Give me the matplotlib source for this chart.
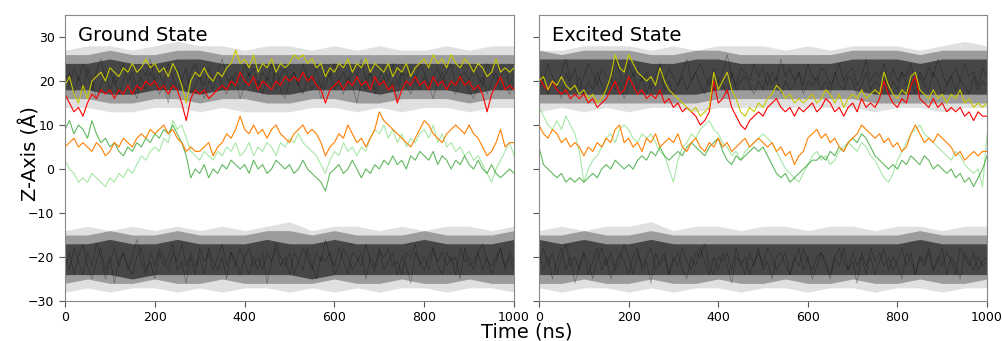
import numpy as np
import matplotlib
matplotlib.use('Agg')
import matplotlib.pyplot as plt

# ---- data (values every 10 ns) ----
g_yellow = [19,21,17,15,19,16,20,21,22,20, 23,22,21,23,22,24,22,23,25,23,
            24,22,23,21,24,22,19,15,20,22, 21,23,21,20,22,21,23,24,27,24,
            25,23,26,22,24,23,25,22,24,23, 24,26,25,26,24,25,23,24,21,23,
            22,24,23,25,22,24,23,25,22,24, 23,22,24,21,23,22,24,21,23,24,
            25,23,26,24,25,23,26,24,23,25, 24,22,24,23,21,22,25,22,23,22,23]
g_red = [17,15,13,14,12,15,17,16,18,17, 18,16,18,17,19,17,19,18,20,19,
         20,18,19,17,19,18,15,11,16,18, 17,18,16,17,18,19,18,20,19,22,
         20,19,21,18,20,19,18,20,19,21, 20,21,20,22,20,21,19,18,15,18,
         19,20,18,20,19,21,19,20,18,21, 19,20,18,19,15,18,20,19,21,19,
         20,18,21,19,20,18,20,19,21,19, 20,18,19,17,13,17,19,21,18,19,18]
g_orange = [5,6,7,5,6,5,4,6,5,3, 4,6,5,7,6,5,7,8,7,9,
            8,9,10,8,9,7,6,4,5,4, 4,5,6,3,5,6,8,7,9,12,
            9,8,10,8,9,7,9,10,8,7, 6,8,9,10,8,9,8,6,3,5,
            6,8,7,10,8,6,7,5,7,9, 13,11,10,9,8,7,6,5,7,9,
            11,10,8,7,6,8,9,10,9,8, 10,8,7,5,3,4,6,9,5,6,6]
g_green_a = [9,11,8,10,9,7,11,8,6,7, 5,6,4,3,5,4,6,5,7,6,
             8,7,9,8,10,8,6,3,-2,0, -1,1,-2,0,-1,1,0,2,1,0,
             1,-1,2,0,1,-1,0,2,1,0, 1,-1,0,2,0,-1,-2,-3,-5,-1,
             0,1,-1,0,2,0,-2,0,-1,1, 0,2,1,3,1,2,0,3,2,4,
             3,2,4,1,3,2,0,2,1,3, 1,0,2,0,-1,1,-1,-2,-1,0,-1]
g_green_b = [2,0,-1,-3,-2,-3,-1,-2,-3,-4, -2,-3,-1,-2,0,-1,1,3,2,4,
             5,4,7,6,11,9,10,7,4,3, 2,4,3,2,4,3,5,4,6,3,
             4,6,3,5,4,6,5,3,6,5, 7,6,8,6,5,4,3,1,-1,2,
             4,3,6,4,5,3,5,4,7,9, 8,10,7,9,6,8,5,7,6,8,
             9,7,10,6,8,5,6,4,5,3, 4,2,3,1,-1,-3,0,2,4,6,3]

e_yellow = [20,21,18,20,19,21,19,18,19,17, 18,16,17,15,16,18,21,26,23,22,
            26,24,22,21,20,21,19,23,20,18, 17,16,15,14,13,14,12,13,14,22,
            18,20,22,18,16,13,12,14,13,15, 14,16,17,19,18,16,17,15,16,15,
            16,17,15,16,18,17,15,17,14,16, 17,16,18,16,17,18,17,22,19,17,
            16,18,17,21,22,18,17,16,18,16, 17,15,17,16,18,15,16,14,15,14,15]
e_red = [21,19,18,20,18,17,18,16,17,16, 17,15,16,14,15,16,18,20,17,18,
         21,19,17,18,16,17,16,18,15,16, 14,15,13,14,13,12,10,11,13,20,
         15,16,18,14,12,10,9,11,12,13, 12,14,15,16,14,13,14,12,14,13,
         14,15,13,14,16,15,13,14,12,14, 15,13,16,14,15,14,16,20,17,15,
         14,16,15,19,21,16,15,14,16,14, 15,13,14,13,14,12,13,11,13,12,12]
e_orange = [10,8,7,9,8,6,7,5,6,5, 3,5,4,6,5,7,6,9,10,6,
            7,5,6,4,7,6,8,5,6,7, 6,8,5,4,6,7,5,4,6,5,
            7,5,6,4,5,6,7,5,6,7, 6,5,6,4,5,3,4,1,3,4,
            7,8,9,7,8,6,7,5,4,6, 7,8,10,9,8,7,8,6,7,5,
            6,4,5,8,10,8,6,7,6,8, 7,6,5,3,4,2,3,4,3,4,4]
e_green_a = [5,1,0,-1,-2,-1,-3,-2,-3,-2, -3,-2,-1,-2,0,1,0,2,1,0,
             1,0,2,3,2,4,3,5,3,2, 3,4,3,5,6,5,4,3,5,6,
             7,4,2,1,3,2,3,4,5,4, 5,3,1,-1,-2,-1,-3,-2,-1,0,
             1,2,2,3,2,4,3,5,4,6, 7,6,8,7,5,3,2,1,0,1,
             0,2,1,3,2,1,3,2,0,1, 0,-1,0,-2,-1,-3,-2,-4,-2,0,3]
e_green_b = [14,12,10,9,11,9,12,10,8,4, -3,0,2,3,5,7,8,6,9,10,
             9,7,6,8,7,8,6,4,3,0, -3,2,5,6,8,7,9,10,11,9,
             8,6,5,3,4,2,4,5,6,7, 8,7,6,4,2,0,-1,-2,-3,-1,
             1,3,4,2,3,1,2,4,5,6, 5,4,6,5,3,2,0,-2,-3,-1,
             2,4,6,8,9,10,8,7,6,5, 4,3,2,4,3,1,0,-1,0,-4,8]

# ---- black band envelopes (every 50 ns): outer, middle, core ----
gu_out_hi = [27,28,28,27,28,29,28,28,27,28,28,27,28,27,28,27,27,28,27,28,28]
gu_mid_hi = [26,26,27,26,26,27,27,26,26,26,26,26,26,26,26,26,26,26,26,26,26]
gu_core_hi = [24,24,25,24,24,25,25,24,24,24,24,24,24,24,24,24,24,24,24,24,24]
gu_core_lo = [18,18,17,17,18,18,17,18,18,17,17,18,18,18,17,18,18,18,17,18,18]
gu_mid_lo = [16,16,15,15,16,16,15,16,16,15,15,16,16,15,15,16,16,16,15,16,16]
gu_out_lo = [14,14,13,13,14,14,13,14,13,13,13,14,14,13,14,13,14,14,13,14,14]
gl_out_hi = [-14,-13,-14,-13,-14,-13,-14,-13,-14,-13,-12,-14,-13,-13,-14,-13,-14,-13,-13,-14,-13]
gl_mid_hi = [-15,-15,-14,-15,-15,-14,-15,-15,-15,-14,-14,-15,-14,-15,-15,-15,-14,-15,-15,-15,-14]
gl_core_hi = [-17,-17,-16,-17,-17,-16,-17,-17,-17,-16,-17,-17,-16,-17,-17,-17,-16,-17,-17,-17,-16]
gl_core_lo = [-24,-24,-24,-25,-24,-24,-24,-24,-24,-24,-24,-25,-24,-24,-24,-24,-24,-24,-24,-24,-24]
gl_mid_lo = [-26,-25,-26,-26,-25,-26,-26,-25,-26,-26,-26,-26,-25,-26,-26,-25,-26,-26,-25,-26,-26]
gl_out_lo = [-28,-27,-28,-27,-27,-28,-27,-28,-27,-27,-28,-27,-28,-27,-28,-27,-27,-28,-27,-27,-28]
eu_out_hi = [27,27,28,28,28,27,28,27,28,28,28,27,28,27,28,28,28,27,28,29,28]
eu_mid_hi = [27,26,27,27,27,26,26,27,27,26,26,26,26,26,27,27,27,26,27,27,27]
eu_core_hi = [25,25,25,25,25,24,24,25,25,24,24,24,24,24,25,25,25,24,25,25,25]
eu_core_lo = [17,17,17,17,17,17,17,17,18,18,18,18,18,18,18,17,17,17,17,17,17]
eu_mid_lo = [15,15,15,15,15,15,15,15,16,16,16,16,16,16,16,15,15,15,15,15,15]
eu_out_lo = [13,14,13,14,13,14,14,13,14,14,14,14,14,14,14,13,14,14,13,14,14]
el_out_hi = [-14,-13,-14,-13,-13,-12,-14,-13,-13,-14,-13,-13,-14,-13,-13,-14,-13,-13,-14,-13,-13]
el_mid_hi = [-15,-15,-14,-15,-15,-14,-15,-15,-15,-15,-15,-15,-15,-15,-15,-15,-15,-14,-15,-15,-15]
el_core_hi = [-16,-17,-16,-17,-17,-16,-17,-17,-17,-17,-17,-17,-17,-17,-17,-17,-17,-16,-17,-17,-17]
el_core_lo = [-24,-24,-24,-24,-24,-24,-24,-24,-24,-24,-24,-24,-24,-24,-24,-24,-24,-24,-24,-24,-24]
el_mid_lo = [-26,-26,-25,-26,-26,-25,-26,-26,-25,-26,-26,-25,-26,-26,-25,-26,-26,-25,-26,-26,-25]
el_out_lo = [-27,-28,-27,-27,-28,-27,-28,-27,-27,-28,-27,-27,-28,-27,-27,-28,-27,-27,-28,-27,-27]

# ---- a few individual black traces (every 10 ns) ----
gu_tr1 = [22,19,23,20,24,21,18,22,25,20,23,19,21,24,20,22,18,23,21,25,20,22,19,24,21,23,20,18,22,24,21,19,23,20,22,25,21,19,22,20,24,21,23,19,22,20,24,18,21,23,20,22,19,24,21,20,23,18,22,21,24,20,22,19,23,21,25,20,22,18,21,23,20,24,19,22,21,23,20,24,22,19,21,23,20,22,24,19,21,22,20,23,21,19,24,22,20,21,23,19,22]
gu_tr2 = [19,22,17,21,18,23,20,16,19,22,18,21,17,20,23,19,16,21,18,22,20,17,19,15,21,18,20,23,17,19,21,16,20,18,22,19,17,21,20,16,19,22,18,20,17,21,19,23,18,16,20,22,19,17,21,18,20,16,19,22,18,20,17,21,19,15,20,18,22,17,19,21,18,20,16,22,19,17,20,18,21,19,16,20,22,18,19,17,21,20,18,16,19,21,17,20,22,18,19,17,20]
gl_tr1 = [-20,-23,-18,-21,-24,-19,-22,-17,-20,-25,-21,-18,-22,-19,-23,-20,-16,-21,-24,-19,-22,-18,-20,-23,-19,-21,-17,-22,-20,-24,-18,-21,-19,-23,-20,-17,-22,-19,-21,-24,-20,-18,-22,-20,-23,-19,-21,-17,-20,-22,-19,-24,-21,-18,-20,-23,-19,-21,-16,-20,-22,-18,-21,-24,-19,-20,-22,-17,-21,-23,-19,-20,-18,-22,-21,-24,-19,-20,-17,-22,-20,-23,-18,-21,-19,-22,-20,-24,-18,-21,-20,-23,-19,-17,-21,-22,-20,-18,-23,-19,-21]
gl_tr2 = [-22,-19,-24,-20,-17,-22,-25,-21,-18,-23,-20,-26,-21,-19,-22,-24,-20,-18,-23,-21,-25,-19,-22,-20,-17,-23,-21,-26,-19,-22,-20,-24,-18,-21,-23,-20,-25,-19,-22,-18,-21,-24,-20,-23,-19,-26,-21,-18,-22,-20,-24,-19,-21,-23,-18,-22,-25,-20,-21,-19,-24,-22,-18,-20,-23,-21,-19,-25,-20,-22,-18,-23,-21,-19,-24,-20,-22,-26,-19,-21,-23,-20,-18,-22,-24,-19,-21,-20,-25,-18,-22,-21,-19,-23,-20,-24,-21,-18,-22,-20,-23]
eu_tr1 = [23,20,24,21,19,22,25,20,23,18,21,24,22,19,23,21,20,25,22,19,24,21,23,20,22,18,21,24,20,23,21,19,22,25,20,22,24,21,19,23,20,22,26,21,19,23,22,20,24,21,23,19,22,20,25,21,23,20,22,19,24,21,20,23,22,19,21,24,20,22,23,19,21,25,20,22,21,24,19,23,20,22,21,24,19,22,20,23,21,25,22,19,21,23,20,24,21,22,19,23,21]
eu_tr2 = [18,21,17,20,19,16,22,19,18,21,17,20,18,22,19,17,21,18,20,16,19,22,18,21,17,20,19,23,18,20,17,19,21,18,20,22,19,17,21,18,20,19,17,22,18,20,21,19,17,20,18,22,19,21,17,20,18,19,22,17,20,19,21,18,20,17,22,19,18,21,20,17,19,22,18,20,19,21,17,20,18,22,19,20,17,21,19,18,22,20,17,19,21,18,20,19,17,21,18,20,19]
el_tr1 = [-21,-18,-22,-19,-24,-20,-17,-22,-20,-23,-19,-21,-25,-20,-18,-22,-19,-23,-21,-17,-20,-24,-19,-22,-20,-18,-23,-21,-19,-24,-20,-22,-18,-21,-23,-19,-20,-17,-22,-24,-20,-21,-19,-23,-18,-22,-20,-24,-21,-19,-22,-18,-20,-23,-21,-19,-24,-20,-22,-18,-21,-23,-20,-19,-22,-25,-20,-18,-21,-23,-19,-22,-20,-24,-18,-21,-19,-22,-20,-23,-21,-18,-22,-19,-24,-20,-21,-18,-23,-20,-22,-19,-21,-24,-18,-20,-22,-19,-23,-21,-20]
el_tr2 = [-19,-23,-20,-25,-21,-18,-23,-20,-26,-22,-19,-24,-21,-18,-23,-20,-25,-22,-19,-21,-24,-20,-18,-23,-21,-26,-19,-22,-20,-24,-21,-19,-23,-25,-20,-22,-18,-21,-24,-20,-23,-19,-22,-26,-20,-21,-24,-19,-22,-18,-23,-21,-25,-20,-19,-22,-24,-21,-18,-23,-20,-25,-22,-19,-21,-24,-20,-22,-18,-23,-21,-26,-19,-22,-20,-24,-21,-18,-23,-20,-22,-25,-19,-21,-24,-20,-22,-19,-23,-21,-18,-24,-20,-22,-25,-19,-21,-23,-20,-22,-21]

panels = [
    ('Ground State',
     [([gu_out_lo, gu_mid_lo, gu_core_lo], [gu_out_hi, gu_mid_hi, gu_core_hi], [gu_tr1, gu_tr2]),
      ([gl_out_lo, gl_mid_lo, gl_core_lo], [gl_out_hi, gl_mid_hi, gl_core_hi], [gl_tr1, gl_tr2])],
     [g_green_b, g_green_a, g_orange, g_red, g_yellow]),
    ('Excited State',
     [([eu_out_lo, eu_mid_lo, eu_core_lo], [eu_out_hi, eu_mid_hi, eu_core_hi], [eu_tr1, eu_tr2]),
      ([el_out_lo, el_mid_lo, el_core_lo], [el_out_hi, el_mid_hi, el_core_hi], [el_tr1, el_tr2])],
     [e_green_b, e_green_a, e_orange, e_red, e_yellow]),
]
band_alpha = [0.12, 0.3, 0.55]
line_styles = [('#5fd35f', 0.55), ('#2ca02c', 0.75), ('#ff7f00', 1.0),
               ('#ff0000', 1.0), ('#c8c800', 1.0)]

fig = plt.figure(figsize=(10.03, 3.41), dpi=100)
rects = [[0.0648, 0.1173, 0.4477, 0.8387], [0.5374, 0.1173, 0.4467, 0.8387]]

for i, (title, bands, lines) in enumerate(panels):
    ax = fig.add_axes(rects[i])
    for los, his, traces in bands:
        for lo, hi, a in zip(los, his, band_alpha):
            xb = np.linspace(0, 1000, len(lo))
            ax.fill_between(xb, lo, hi, color='black', alpha=a, lw=0)
        for tr in traces:
            ax.plot(np.linspace(0, 1000, len(tr)), tr, color='black', lw=0.4, alpha=0.4)
    for y, (c, a) in zip(lines, line_styles):
        ax.plot(np.linspace(0, 1000, len(y)), y, color=c, lw=0.8, alpha=a)

    ax.set_xlim(0, 1000)
    ax.set_ylim(-30, 35)
    ax.set_xticks([0, 200, 400, 600, 800, 1000])
    ax.set_yticks([-30, -20, -10, 0, 10, 20, 30])
    ax.tick_params(labelsize=9, length=4, color='#555555')
    if i == 1:
        ax.set_yticklabels([])
    for s in ax.spines.values():
        s.set_color('#888888')
    ax.text(0.03, 0.96, title, transform=ax.transAxes, fontsize=14, va='top', ha='left')

fig.text(0.03, 0.55, 'Z-Axis (Å)', rotation=90, fontsize=14, va='center', ha='center')
fig.text(0.525, 0.025, 'Time (ns)', fontsize=14, va='center', ha='center')

fig.savefig('out.png', dpi=100)
